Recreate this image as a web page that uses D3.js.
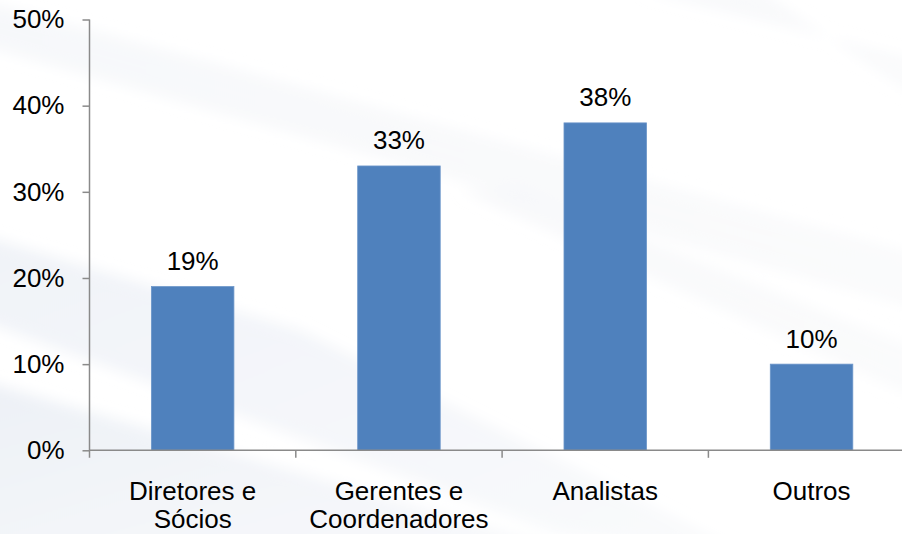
<!DOCTYPE html>
<html>
<head>
<meta charset="utf-8">
<script src="https://cdn.jsdelivr.net/npm/d3@7"></script>
<style>
  html, body { margin: 0; padding: 0; background: #ffffff; }
  svg { display: block; }
  text { font-family: "Liberation Sans", Arial, sans-serif; fill: #000; }
</style>
</head>
<body>
<svg id="chart" width="902" height="534"></svg>
<script>
// Distribuição por cargo
const categories = [["Diretores e", "Sócios"], ["Gerentes e", "Coordenadores"], ["Analistas"], ["Outros"]];
const shares = [0.19, 0.33, 0.38, 0.10];
const yTicks = [0, 0.1, 0.2, 0.3, 0.4, 0.5];

const W = 902, H = 534;
const FONT = 26;
const svg = d3.select("#chart");
const keys = categories.map(c => c.join(" "));

// soft diagonal watermark bands in the background
const defs = svg.append("defs");
const blur = defs.append("filter").attr("id", "soft").attr("x", "-20%").attr("y", "-20%").attr("width", "140%").attr("height", "140%");
blur.append("feGaussianBlur").attr("stdDeviation", 7);
const grad = defs.append("linearGradient").attr("id", "bandGrad").attr("x1", "0").attr("x2", "1").attr("y1", "0").attr("y2", "0");
grad.append("stop").attr("offset", "0").attr("stop-color", "#f1f3f7");
grad.append("stop").attr("offset", "1").attr("stop-color", "#f7f8fa");
const grad2 = defs.append("linearGradient").attr("id", "bandGrad2").attr("x1", "0").attr("x2", "1").attr("y1", "0").attr("y2", "1");
grad2.append("stop").attr("offset", "0").attr("stop-color", "#eaeef5");
grad2.append("stop").attr("offset", "1").attr("stop-color", "#f8f9fb");

const bands = [
  { pts: [[-20, 0], [-20, 45], [920, 310], [920, 255]], fill: "url(#bandGrad)", op: 0.6 },
  { pts: [[640, -10], [760, -10], [920, 100], [920, 60]], fill: "url(#bandGrad)", op: 0.6 },
  { pts: [[-20, 235], [-20, 320], [560, 534], [760, 560], [300, 330]], fill: "url(#bandGrad2)", op: 0.75 },
  { pts: [[-20, 380], [-20, 560], [600, 560]], fill: "url(#bandGrad2)", op: 0.85 },
  { pts: [[460, 190], [520, 190], [920, 350], [920, 400]], fill: "url(#bandGrad)", op: 0.5 }
];
svg.append("g").attr("filter", "url(#soft)")
  .selectAll("polygon").data(bands).join("polygon")
  .attr("points", d => d.pts.map(p => p.join(",")).join(" "))
  .attr("fill", d => d.fill)
  .attr("opacity", d => d.op);

// scales
const y = d3.scaleLinear().domain([0, 0.5]).range([450.3, 19.5]);
const x = d3.scaleBand().domain(keys).range([89.5, 914.7]).paddingInner(0.6).paddingOuter(0.3);

const axisColor = "#8a8a8a";
const pct = d3.format(".0%");

// y axis
const yAxis = svg.append("g")
  .attr("transform", "translate(89.5,0)")
  .call(d3.axisLeft(y).tickValues(yTicks).tickFormat(pct).tickSize(7).tickPadding(18));
yAxis.select(".domain").attr("stroke", axisColor).attr("stroke-width", 1.5)
  .attr("d", `M0,${y(0.5)}V${y(0) + 7.5}`);
yAxis.selectAll(".tick line").attr("stroke", axisColor).attr("stroke-width", 1.5);
yAxis.selectAll(".tick text").attr("font-size", FONT).attr("font-family", "Liberation Sans, Arial, sans-serif").attr("fill", "#000");

// bars
svg.append("g").selectAll("rect").data(shares).join("rect")
  .attr("x", (d, i) => x(keys[i]))
  .attr("width", x.bandwidth())
  .attr("y", d => y(d))
  .attr("height", d => y(0) - y(d))
  .attr("fill", "#4f81bd")
  .attr("stroke", "#6b95c9")
  .attr("stroke-width", 0.8);

// x axis with ticks between categories
const gap = x.step() - x.bandwidth();
const boundaries = keys.map(k => x(k) - gap / 2).concat([x(keys[keys.length - 1]) + x.bandwidth() + gap / 2]);
const xAxis = svg.append("g");
xAxis.append("line")
  .attr("x1", 89.5).attr("x2", W)
  .attr("y1", y(0)).attr("y2", y(0))
  .attr("stroke", axisColor).attr("stroke-width", 1.5);
xAxis.selectAll("line.tick").data(boundaries.slice(1)).join("line")
  .attr("class", "tick")
  .attr("x1", d => d).attr("x2", d => d)
  .attr("y1", y(0)).attr("y2", y(0) + 7.5)
  .attr("stroke", axisColor).attr("stroke-width", 1.5);

// category labels
const cat = svg.append("g").selectAll("text").data(categories).join("text")
  .attr("x", (d, i) => x(keys[i]) + x.bandwidth() / 2)
  .attr("y", 500)
  .attr("text-anchor", "middle")
  .attr("font-size", FONT);
cat.selectAll("tspan").data(d => d).join("tspan")
  .attr("x", function () { return d3.select(this.parentNode).attr("x"); })
  .attr("dy", (d, i) => i === 0 ? 0 : 28)
  .text(d => d);

// value labels
svg.append("g").selectAll("text").data(shares).join("text")
  .attr("x", (d, i) => x(keys[i]) + x.bandwidth() / 2)
  .attr("y", d => y(d) - 16.5)
  .attr("text-anchor", "middle")
  .attr("font-size", FONT)
  .text(d => pct(d));
</script>
</body>
</html>
